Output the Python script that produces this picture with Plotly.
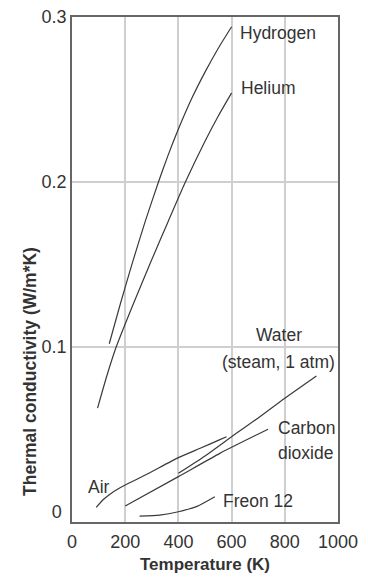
import plotly.graph_objects as go

# ---- data ----
hydrogen_T = [140, 180, 225, 275, 325, 360, 400, 450, 500, 550, 600]
hydrogen_k = [0.102, 0.1252, 0.150, 0.176, 0.200, 0.2157, 0.2321, 0.2506, 0.2666, 0.2811, 0.2941]

helium_T = [96, 130, 166, 230, 300, 360, 425, 500, 550, 600]
helium_k = [0.063, 0.082, 0.100, 0.126, 0.153, 0.1755, 0.1995, 0.2247, 0.240, 0.254]

water_T = [400, 500, 600, 700, 800, 919]
water_k = [0.0235, 0.034, 0.0457, 0.057, 0.069, 0.0825]

co2_T = [200, 400, 556, 737]
co2_k = [0.0037, 0.0215, 0.0356, 0.0502]

air_T = [91, 119, 156, 200, 281, 400, 482, 556, 581]
air_k = [0.0029, 0.0078, 0.0124, 0.0164, 0.0229, 0.033, 0.0387, 0.0439, 0.0457]

freon_T = [254, 330, 400, 470, 537]
freon_k = [-0.0024, -0.0018, 0.0002, 0.0035, 0.0093]

x_ticks = [0, 200, 400, 600, 800, 1000]
y_ticks = [0, 0.1, 0.2, 0.3]
y_ticktext = ["0\u00a0", "0.1", "0.2", "0.3"]

x_title = "Temperature (K)"
y_title = "Thermal conductivity (W/m*K)"

series = [
    ("Hydrogen", hydrogen_T, hydrogen_k),
    ("Helium", helium_T, helium_k),
    ("Water (steam, 1 atm)", water_T, water_k),
    ("Carbon dioxide", co2_T, co2_k),
    ("Air", air_T, air_k),
    ("Freon 12", freon_T, freon_k),
]

FONT = "Liberation Sans, Arial, Helvetica, sans-serif"
LINE = "#3a3a3a"
TXT = "#333333"

fig = go.Figure()
for name, xs, ys in series:
    fig.add_trace(go.Scatter(x=xs, y=ys, mode="lines", name=name,
                             line=dict(color=LINE, width=1.2, shape="spline", smoothing=0.6),
                             showlegend=False, hoverinfo="skip"))

labels = [
    ("Hydrogen", 625, 0.2902, "left"),
    ("Helium", 627, 0.2572, "left"),
    ("Water", 777, 0.1073, "center"),
    ("(steam, 1 atm)", 777, 0.091, "center"),
    ("Carbon", 767, 0.0512, "left"),
    ("dioxide", 767, 0.036, "left"),
    ("Freon 12", 559, 0.0069, "left"),
    ("Air", 54, 0.0150, "left"),
]
for text, x, y, anchor in labels:
    fig.add_annotation(x=x, y=y, xref="x", yref="y", text=text, showarrow=False,
                       xanchor=anchor, yanchor="middle",
                       font=dict(family=FONT, size=17.5, color=TXT))

# y-axis title (the reference places it below the axis centre)
fig.add_annotation(x=-0.158, y=0.299, xref="paper", yref="paper",
                   text="<b>" + y_title + "</b>", textangle=-90, showarrow=False,
                   xanchor="center", yanchor="middle",
                   font=dict(family=FONT, size=17.5, color=TXT))

# the page body has an 8px default margin; size the figure so the plot area
# lands at the same pixel positions as in the reference
fig.update_layout(
    width=352, height=567,
    margin=dict(l=64, r=22, t=9, b=53, autoexpand=False),
    paper_bgcolor="white", plot_bgcolor="white",
    font=dict(family=FONT, color=TXT),
)
fig.update_xaxes(
    range=[0, 1000], tickvals=x_ticks, ticks="", showgrid=True, automargin=False,
    gridcolor="#cfcfcf", gridwidth=1.5, zeroline=False,
    showline=True, linecolor="#666666", linewidth=1.5, mirror=True,
    tickfont=dict(family=FONT, size=18, color=TXT), ticklabelstandoff=3,
    ticklabeloverflow="allow",
    title=dict(text="<b>" + x_title + "</b>", font=dict(family=FONT, size=17, color=TXT), standoff=7),
)
fig.update_yaxes(
    range=[-0.006, 0.3], tickvals=y_ticks, ticktext=y_ticktext, ticks="", automargin=False,
    showgrid=False, zeroline=False, ticklabeloverflow="allow",
    minor=dict(tickvals=[0.1, 0.2], showgrid=True, gridcolor="#cfcfcf", gridwidth=1.5, ticks=""),
    showline=True, linecolor="#666666", linewidth=1.5, mirror=True,
    tickfont=dict(family=FONT, size=18, color=TXT), ticklabelstandoff=0,
)

fig.write_html("out.html")
